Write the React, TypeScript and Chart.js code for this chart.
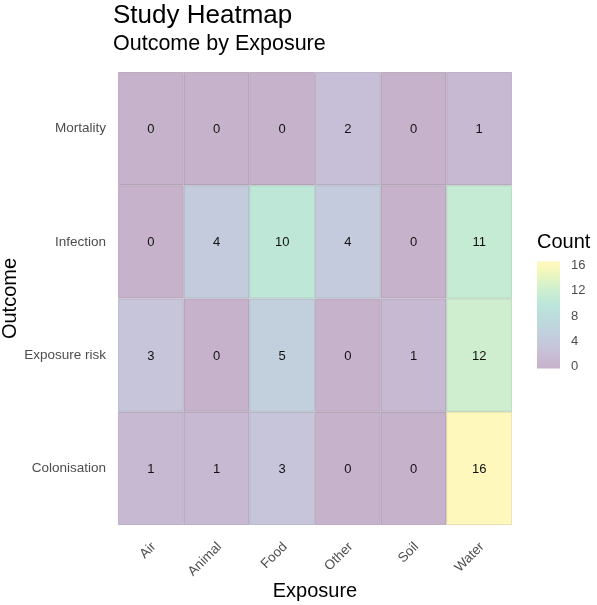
import React, { useEffect, useRef } from 'react';
import { Chart, registerables } from 'chart.js';

Chart.register(...registerables);

// ---- data ----
const exposures = ['Air', 'Animal', 'Food', 'Other', 'Soil', 'Water'];
// outcomes listed from bottom row to top row
const outcomes = ['Colonisation', 'Exposure risk', 'Infection', 'Mortality'];
const colonisation = [1, 1, 3, 0, 0, 16];
const exposureRisk = [3, 0, 5, 0, 1, 12];
const infection = [0, 4, 10, 4, 0, 11];
const mortality = [0, 0, 0, 2, 0, 1];
const rowValues = [colonisation, exposureRisk, infection, mortality];
const countTicks = [0, 4, 8, 12, 16];
const countMin = 0;
const countMax = 16;

const titleText = 'Study Heatmap';
const subtitleText = 'Outcome by Exposure';
const xTitle = 'Exposure';
const yTitle = 'Outcome';
const legendTitle = 'Count';

// ---- styling ----
const FONT = "'Liberation Sans', Arial, Helvetica, sans-serif";
const ALPHA = 0.3;
const viridisStops = [
  '#440154', '#482475', '#414487', '#355f8d', '#2a788e', '#21918c',
  '#22a884', '#44bf70', '#7ad151', '#bddf26', '#fde725',
];

function hexToRgb(h: string) {
  const n = parseInt(h.slice(1), 16);
  return [(n >> 16) & 255, (n >> 8) & 255, n & 255];
}

function viridis(t: number, alpha = ALPHA) {
  const tt = Math.max(0, Math.min(1, t));
  const pos = tt * (viridisStops.length - 1);
  const i = Math.min(Math.floor(pos), viridisStops.length - 2);
  const f = pos - i;
  const a = hexToRgb(viridisStops[i]);
  const b = hexToRgb(viridisStops[i + 1]);
  const c = a.map((v, k) => Math.round(v + (b[k] - v) * f));
  return `rgba(${c[0]},${c[1]},${c[2]},${alpha})`;
}

const colorOf = (v: number) => viridis((v - countMin) / (countMax - countMin));

const cellLabelPlugin = {
  id: 'cellLabels',
  afterDatasetsDraw(chart: any) {
    const { ctx } = chart;
    ctx.save();
    ctx.font = `13px ${FONT}`;
    ctx.fillStyle = '#111111';
    ctx.textAlign = 'center';
    ctx.textBaseline = 'middle';
    chart.data.datasets.forEach((ds: any, i: number) => {
      const meta = chart.getDatasetMeta(i);
      meta.data.forEach((bar: any, j: number) => {
        const cy = (bar.y + bar.base) / 2;
        ctx.fillText(String(ds.values[j]), bar.x, cy + 1);
      });
    });
    ctx.restore();
  },
};

const titlesPlugin = {
  id: 'titlesAndLegend',
  afterDraw(chart: any) {
    const { ctx, chartArea } = chart;
    ctx.save();
    // titles
    ctx.fillStyle = '#000000';
    ctx.textAlign = 'left';
    ctx.textBaseline = 'alphabetic';
    ctx.font = `26px ${FONT}`;
    ctx.fillText(titleText, chartArea.left - 5, 23);
    ctx.font = `21.5px ${FONT}`;
    ctx.fillText(subtitleText, chartArea.left - 5, 50);

    // colour legend
    const cy = (chartArea.top + chartArea.bottom) / 2;
    const x0 = chartArea.right + 25;
    const barW = 23;
    const barTop = cy - 37;
    const barBottom = cy + 70;
    const yOf = (v: number) =>
      barBottom - 3 - ((v - countMin) / (countMax - countMin)) * (barBottom - barTop - 6);

    ctx.font = `20px ${FONT}`;
    ctx.fillStyle = '#000000';
    ctx.fillText(legendTitle, x0, cy - 51);

    const grad = ctx.createLinearGradient(0, yOf(countMin), 0, yOf(countMax));
    for (let k = 0; k <= 20; k++) {
      grad.addColorStop(k / 20, viridis(k / 20));
    }
    ctx.fillStyle = grad;
    ctx.fillRect(x0, barTop, barW, barBottom - barTop);

    ctx.font = `13px ${FONT}`;
    ctx.fillStyle = '#4d4d4d';
    ctx.textBaseline = 'middle';
    countTicks.forEach((t) => {
      ctx.fillText(String(t), x0 + barW + 11, yOf(t) + 1);
    });
    ctx.restore();
  },
};

export default function App() {
  const ref = useRef<HTMLCanvasElement | null>(null);

  useEffect(() => {
    if (!ref.current) return;
    const datasets = outcomes.map((name, r) => ({
      label: name,
      values: rowValues[r],
      data: exposures.map(() => [r - 0.5, r + 0.5]),
      backgroundColor: rowValues[r].map(colorOf),
      borderColor: 'rgba(150,150,150,0.3)',
      borderWidth: 0.6,
      borderSkipped: false,
      barPercentage: 1,
      categoryPercentage: 1,
      grouped: false,
    }));

    const chart = new Chart(ref.current, {
      type: 'bar',
      data: { labels: exposures, datasets: datasets as any },
      options: {
        responsive: false,
        animation: false,
        events: [],
        layout: { padding: { top: 72, right: 85, left: 0, bottom: 0 } },
        plugins: {
          legend: { display: false },
          tooltip: { enabled: false },
          title: { display: false },
        },
        scales: {
          x: {
            type: 'category',
            grid: { display: false },
            border: { display: false },
            ticks: {
              maxRotation: 45,
              minRotation: 45,
              padding: 6,
              labelOffset: 3,
              color: '#4d4d4d',
              font: { family: FONT, size: 13.5 },
            },
            title: {
              display: true,
              text: xTitle,
              color: '#000000',
              font: { family: FONT, size: 20 },
              padding: { top: 4, bottom: 2 },
            },
            afterFit: (s: any) => {
              s.height = 80;
            },
          },
          y: {
            type: 'linear',
            min: -0.5,
            max: outcomes.length - 0.5,
            grid: { display: false },
            border: { display: false },
            afterBuildTicks: (s: any) => {
              s.ticks = outcomes.map((_, i) => ({ value: i }));
            },
            ticks: {
              padding: 4,
              color: '#4d4d4d',
              font: { family: FONT, size: 13.5 },
              callback: (v: any) => outcomes[Math.round(Number(v))] ?? '',
            },
            title: {
              display: true,
              text: yTitle,
              color: '#000000',
              font: { family: FONT, size: 20, lineHeight: 1 },
              padding: { top: 0, bottom: 0 },
            },
            afterFit: (s: any) => {
              s.width = 118;
            },
          },
        },
      },
      plugins: [cellLabelPlugin, titlesPlugin],
    });
    return () => chart.destroy();
  }, []);

  return (
    <div style={{ position: 'absolute', left: 0, top: 0, width: 597, height: 605, background: '#ffffff' }}>
      <canvas ref={ref} width={597} height={605} style={{ display: 'block' }} />
    </div>
  );
}
